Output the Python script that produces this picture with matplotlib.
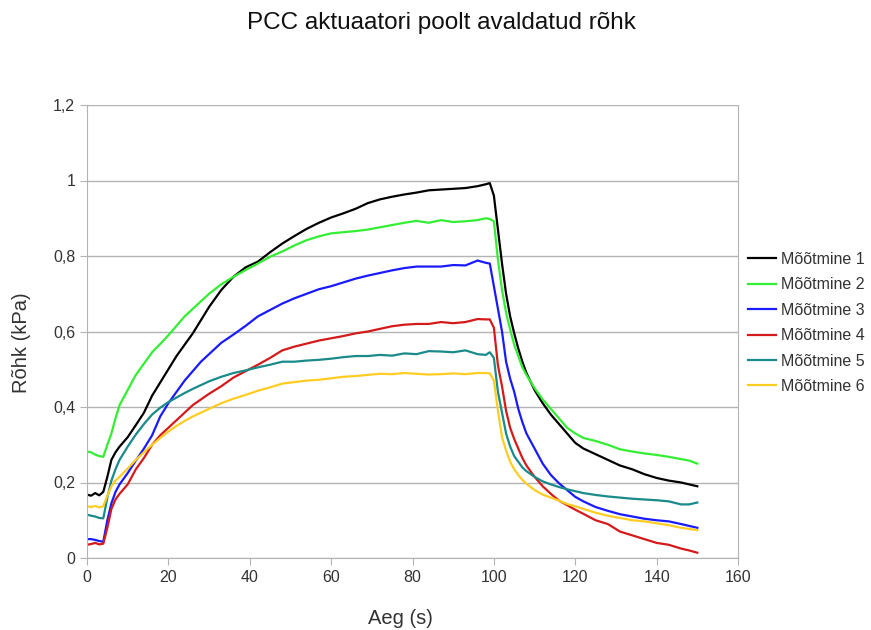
import matplotlib
matplotlib.use("Agg")
import matplotlib.pyplot as plt
from matplotlib.ticker import FuncFormatter

plt.rcParams['font.family'] = ['Liberation Sans', 'DejaVu Sans']

time_s = [0, 1, 2, 3, 4, 5, 6, 7, 8, 10, 12, 14, 16, 18, 20, 22, 24, 26, 28, 30,
          33, 36, 39, 42, 45, 48, 51, 54, 57, 60, 63, 66, 69, 72, 75, 78, 81, 84, 87, 90,
          93, 96, 98, 99, 100, 101, 102, 103, 104, 105, 106, 107, 108, 110, 112, 114, 116, 118, 120, 122,
          125, 128, 131, 134, 137, 140, 143, 146, 148, 150]

m1 = [0.168, 0.165, 0.172, 0.166, 0.175, 0.215, 0.26, 0.28, 0.295, 0.32, 0.352, 0.385, 0.43, 0.465, 0.50, 0.535, 0.565, 0.595, 0.63, 0.665,
      0.71, 0.745, 0.77, 0.785, 0.81, 0.833, 0.853, 0.872, 0.888, 0.902, 0.913, 0.925, 0.94, 0.95, 0.957, 0.963, 0.968, 0.974, 0.976, 0.978,
      0.98, 0.985, 0.99, 0.993, 0.96, 0.87, 0.78, 0.70, 0.64, 0.595, 0.555, 0.52, 0.49, 0.445, 0.41, 0.38, 0.355, 0.33, 0.305, 0.29,
      0.275, 0.26, 0.245, 0.235, 0.222, 0.212, 0.205, 0.20, 0.195, 0.19]
m2 = [0.282, 0.28, 0.274, 0.27, 0.268, 0.30, 0.33, 0.37, 0.405, 0.445, 0.485, 0.515, 0.545, 0.567, 0.59, 0.615, 0.64, 0.66, 0.68, 0.70,
      0.725, 0.745, 0.763, 0.78, 0.798, 0.812, 0.828, 0.842, 0.852, 0.86, 0.863, 0.866, 0.87, 0.876, 0.882, 0.888, 0.893, 0.888, 0.895, 0.89,
      0.892, 0.895, 0.90, 0.898, 0.892, 0.79, 0.71, 0.65, 0.605, 0.565, 0.535, 0.505, 0.485, 0.45, 0.42, 0.395, 0.37, 0.345, 0.33, 0.318,
      0.31, 0.30, 0.288, 0.282, 0.277, 0.273, 0.268, 0.262, 0.258, 0.25]
m3 = [0.05, 0.05, 0.048, 0.045, 0.043, 0.10, 0.145, 0.175, 0.195, 0.225, 0.258, 0.29, 0.325, 0.375, 0.41, 0.44, 0.47, 0.495, 0.52, 0.54,
      0.57, 0.592, 0.615, 0.64, 0.657, 0.674, 0.688, 0.70, 0.712, 0.72, 0.73, 0.74, 0.748, 0.755, 0.762, 0.768, 0.772, 0.772, 0.772, 0.776,
      0.775, 0.788, 0.782, 0.78, 0.72, 0.66, 0.60, 0.52, 0.475, 0.44, 0.395, 0.36, 0.33, 0.29, 0.25, 0.22, 0.198, 0.18, 0.162, 0.15,
      0.135, 0.125, 0.116, 0.11, 0.104, 0.10, 0.097, 0.09, 0.085, 0.08]
m4 = [0.035, 0.037, 0.04, 0.036, 0.038, 0.08, 0.13, 0.155, 0.17, 0.195, 0.235, 0.265, 0.30, 0.325, 0.345, 0.365, 0.385, 0.405, 0.42, 0.435,
      0.455, 0.478, 0.495, 0.512, 0.53, 0.55, 0.56, 0.568, 0.576, 0.582, 0.588, 0.595, 0.60, 0.607, 0.614, 0.618, 0.62, 0.62, 0.625, 0.622,
      0.625, 0.633, 0.632, 0.632, 0.61, 0.51, 0.455, 0.39, 0.345, 0.315, 0.29, 0.265, 0.245, 0.215, 0.19, 0.17, 0.152, 0.14, 0.128, 0.117,
      0.10, 0.09, 0.07, 0.06, 0.05, 0.04, 0.035, 0.025, 0.02, 0.014]
m5 = [0.115, 0.112, 0.11, 0.106, 0.105, 0.16, 0.205, 0.235, 0.26, 0.295, 0.327, 0.355, 0.38, 0.398, 0.413, 0.425, 0.437, 0.448, 0.458, 0.468,
      0.48, 0.49, 0.497, 0.505, 0.512, 0.52, 0.52, 0.523, 0.525, 0.528, 0.532, 0.535, 0.535, 0.538, 0.536, 0.542, 0.54, 0.548, 0.547, 0.545,
      0.55, 0.54, 0.538, 0.545, 0.53, 0.44, 0.385, 0.33, 0.295, 0.27, 0.255, 0.24, 0.23, 0.215, 0.203, 0.195, 0.188, 0.182, 0.177, 0.172,
      0.167, 0.163, 0.16, 0.157, 0.155, 0.153, 0.15, 0.142, 0.142, 0.147]
m6 = [0.137, 0.135, 0.138, 0.134, 0.137, 0.165, 0.19, 0.205, 0.215, 0.237, 0.26, 0.28, 0.30, 0.318, 0.335, 0.35, 0.363, 0.375, 0.385, 0.395,
      0.41, 0.422, 0.432, 0.443, 0.452, 0.462, 0.466, 0.47, 0.472, 0.476, 0.48, 0.482, 0.485, 0.488, 0.487, 0.49, 0.488, 0.486, 0.487, 0.489,
      0.487, 0.49, 0.49, 0.489, 0.47, 0.39, 0.32, 0.285, 0.255, 0.235, 0.22, 0.207, 0.197, 0.18, 0.168, 0.16, 0.152, 0.143, 0.137, 0.13,
      0.12, 0.112, 0.106, 0.10, 0.097, 0.092, 0.087, 0.08, 0.077, 0.074]

series = [m1, m2, m3, m4, m5, m6]
labels = ["Mõõtmine 1", "Mõõtmine 2", "Mõõtmine 3", "Mõõtmine 4", "Mõõtmine 5", "Mõõtmine 6"]
colors = ["#000000", "#33ee33", "#1a1aff", "#d41a1a", "#1a8a8a", "#ffcc22"]

x_ticks = [0, 20, 40, 60, 80, 100, 120, 140, 160]
y_ticks = [0, 0.2, 0.4, 0.6, 0.8, 1.0, 1.2]

fig = plt.figure(figsize=(8.71, 6.30), dpi=100)
ax = fig.add_axes([87 / 871, 1 - 558 / 630, (738 - 87) / 871, (558 - 105) / 630])

for vals, lab, col in zip(series, labels, colors):
    ax.plot(time_s, vals, color=col, lw=1.6, label=lab)

grid_col = "#b3b3b3"
txt_col = "#333333"
ax.set_xlim(0, 160)
ax.set_ylim(0, 1.2)
ax.set_xticks(x_ticks)
ax.set_yticks(y_ticks)
ax.yaxis.set_major_formatter(FuncFormatter(lambda v, p: ("%g" % round(v, 1)).replace(".", ",")))
ax.grid(axis="y", color=grid_col, lw=1)
ax.set_axisbelow(True)
for s in ["left", "bottom", "right"]:
    ax.spines[s].set_color(grid_col)
ax.spines["top"].set_visible(False)
ax.tick_params(axis="both", colors=grid_col, length=5, labelsize=11.5, labelcolor=txt_col)

fig.text(400 / 871, 1 - 619 / 630, "Aeg (s)", ha="center", va="center", fontsize=14.5, color=txt_col)
fig.text(22 / 871, 1 - 343 / 630, "Rõhk (kPa)", ha="center", va="center", rotation=90,
         fontsize=14.5, color=txt_col)
fig.text(441 / 871, 1 - 23 / 630, "PCC aktuaatori poolt avaldatud rõhk", ha="center", va="center",
         fontsize=17.5, color="#111111")

leg = ax.legend(loc="center left", bbox_to_anchor=(1.005, (558 - 323) / 453), frameon=False,
                fontsize=11.5, handlelength=1.8, handletextpad=0.3, labelspacing=0.65,
                borderaxespad=0)
for t in leg.get_texts():
    t.set_color(txt_col)

fig.savefig("out.png", dpi=100)
